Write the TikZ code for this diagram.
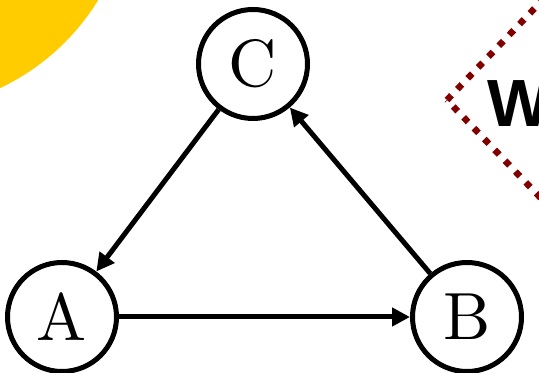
\documentclass[tikz,border=0pt]{standalone}
\usepackage{fontspec}
\usepackage{graphicx}
\newfontfamily\signfont{Liberation Sans}
\usetikzlibrary{arrows.meta}
\definecolor{sunyellow}{RGB}{255,204,0}
\definecolor{signred}{RGB}{128,0,0}

\begin{document}
\begin{tikzpicture}[
    vertex/.style={draw, circle, line width=0.1cm, minimum size=2.18cm,
                   inner sep=0pt},
    edge/.style={line width=0.1cm, -{Triangle[length=0.36cm, width=0.36cm]}},
    sign/.style={draw=signred, line width=0.13cm,
                 dash pattern=on 0.13cm off 0.17cm},
  ]
    \useasboundingbox (0,0) rectangle (10.78,7.46);
    \clip (0,0) rectangle (10.78,7.46);

    % backdrop: sun in the corner and a warning sign
    \fill[sunyellow] (-1.96,9.86) circle (4.6cm);
    \draw[sign] (8.94,5.46) -- (12.0,8.66) -- (15.06,5.46) -- (12.0,2.26) -- cycle;
    \node[anchor=base west, inner sep=0pt,
          font=\signfont\bfseries\fontsize{38}{40}\selectfont] (word) at (9.74,4.92) {W};

    \node[vertex] (a) at (1.24,1.12) {\scalebox{3.8}{A}};
    \node[vertex] (b) at (9.34,1.12) {\scalebox{3.8}{B}};
    \node[vertex] (c) at (5.06,6.18) {\scalebox{3.8}{C}};

    \draw[edge] (a) -- (b);
    \draw[edge] (b) -- (c);
    \draw[edge] (c) -- (a);
\end{tikzpicture}
\end{document}
